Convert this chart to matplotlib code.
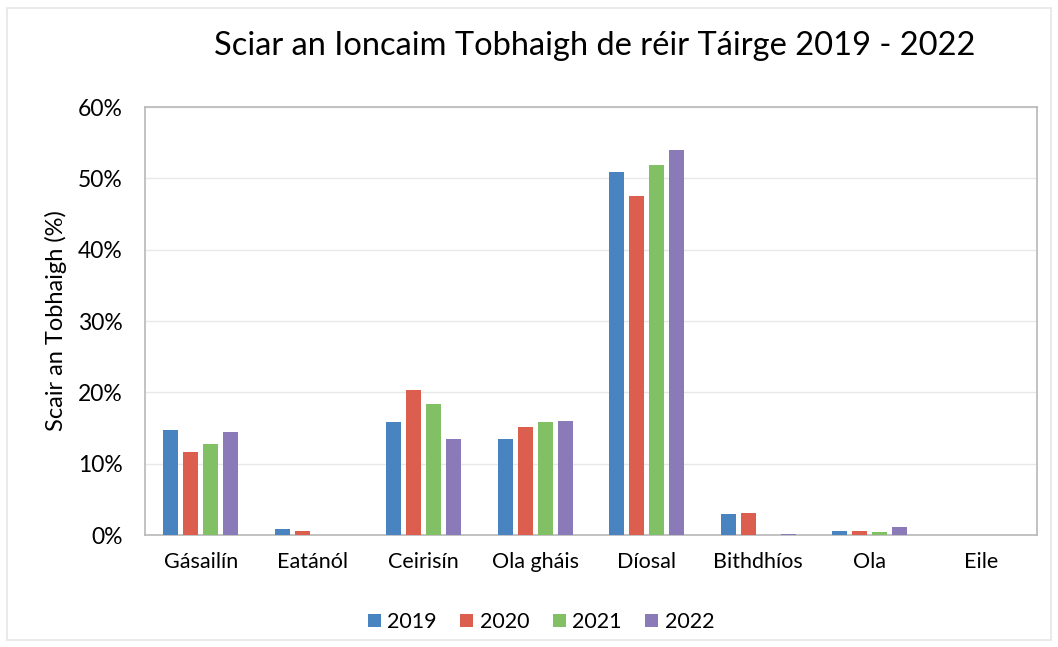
import matplotlib
matplotlib.use("Agg")
import matplotlib.pyplot as plt
import numpy as np
from matplotlib.ticker import PercentFormatter
from matplotlib.patches import Rectangle

plt.rcParams['font.family'] = ['Lato', 'DejaVu Sans']

categories = ["Gásailín", "Eatánól", "Ceirisín", "Ola gháis", "Díosal", "Bithdhíos", "Ola", "Eile"]
years = ["2019", "2020", "2021", "2022"]
v2019 = [14.7, 0.8, 15.8, 13.5, 50.9, 3.0, 0.5, 0.0]
v2020 = [11.7, 0.5, 20.3, 15.2, 47.5, 3.1, 0.5, 0.0]
v2021 = [12.7, 0.0, 18.4, 15.8, 51.9, 0.0, 0.4, 0.0]
v2022 = [14.4, 0.0, 13.5, 16.0, 54.0, 0.2, 1.1, 0.0]
series = [v2019, v2020, v2021, v2022]
colors = ["#4A84C0", "#DB5E4F", "#82C065", "#8B7AB8"]

fig = plt.figure(figsize=(10.58, 6.47), dpi=100)
fig.patches.append(Rectangle((7/1058, 7/647), 1044/1058, 632/647, transform=fig.transFigure,
                             fill=False, edgecolor="#e6e6e6", linewidth=1.2))
ax = fig.add_axes([145/1058, 112/647, 892/1058, 428/647])

x = np.arange(len(categories))
step = 20/112
width = 15/112
for i, (vals, c, y) in enumerate(zip(series, colors, years)):
    ax.bar(x + (i - 1.5)*step, vals, width=width, color=c, label=y, zorder=3)

ax.set_xlim(-0.5, len(categories) - 0.5)
ax.set_ylim(0, 60)
ax.set_yticks(np.arange(0, 61, 10))
ax.yaxis.set_major_formatter(PercentFormatter(decimals=0))
ax.set_xticks(x)
ax.set_xticklabels(categories, fontsize=15.5)
ax.tick_params(axis='x', length=0, pad=12)
ax.tick_params(axis='y', length=0, pad=16, labelsize=16.5)
ax.grid(axis='y', color="#e8e8e8", linewidth=1, zorder=0)
for s in ax.spines.values():
    s.set_color("#b8b8b8")
    s.set_linewidth(1.2)
ax.set_ylabel("Scair an Tobhaigh (%)", fontsize=17, labelpad=8)

fig.text(595/1058, 1 - 46/647, "Sciar an Ioncaim Tobhaigh de réir Táirge 2019 - 2022",
         ha='center', va='center', fontsize=23.5)

ax.legend(loc='center', bbox_to_anchor=(541/1058, 1 - 622/647), bbox_transform=fig.transFigure,
          ncol=4, frameon=False, fontsize=15.5, handlelength=0.6, handleheight=0.6,
          handletextpad=0.3, columnspacing=1.1)

fig.savefig("out.png", dpi=100)
